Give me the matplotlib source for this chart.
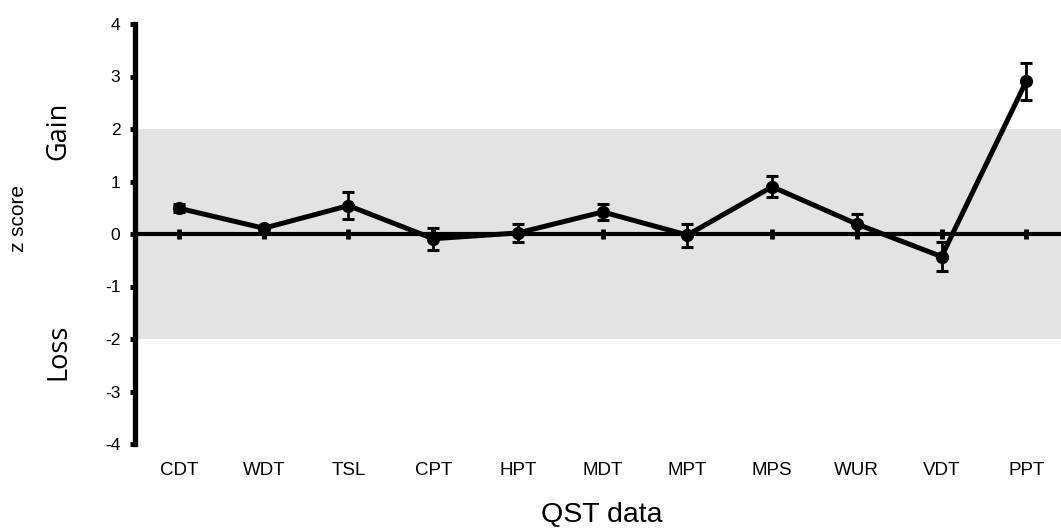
import numpy as np
import matplotlib.pyplot as plt

# QST z-scores (mean and error)
categorias = ['CDT', 'WDT', 'TSL', 'CPT', 'HPT', 'MDT', 'MPT', 'MPS', 'WUR', 'VDT', 'PPT']
zscore = [0.49, 0.11, 0.54, -0.09, 0.02, 0.42, -0.02, 0.90, 0.19, -0.43, 2.91]
erro = [0.08, 0.05, 0.26, 0.21, 0.17, 0.15, 0.22, 0.20, 0.19, 0.27, 0.35]
yticks = [-4, -3, -2, -1, 0, 1, 2, 3, 4]

plt.rcParams['font.family'] = ['Liberation Sans', 'DejaVu Sans']

fig = plt.figure(figsize=(10.61, 5.31), dpi=100)
ax = fig.add_axes([135/1061, 87/531, 1 - 135/1061, 420/531])

x = np.arange(len(categorias))

# faixa normal (-2 a 2)
ax.axhspan(-2, 2, color='#e3e3e3', zorder=0, lw=0)
# linha do zero com marquinhas em cada categoria
ax.axhline(0, color='black', lw=3, zorder=2)
ax.plot(x, np.zeros(len(x)), ls='none', marker='|', ms=7, mew=3.5, color='black', zorder=2)

ax.errorbar(x, zscore, yerr=erro, color='black', lw=3.6, marker='o', ms=8.5,
            elinewidth=2, capsize=4, capthick=2.2, zorder=3)

ax.set_xlim(-0.52, 10.41)
ax.set_ylim(-4, 4)
ax.set_yticks(yticks)
ax.set_yticklabels([str(t) for t in yticks], fontsize=12.5)
ax.set_xticks(x)
ax.set_xticklabels(categorias, fontsize=13.5)

for s in ['top', 'right', 'bottom']:
    ax.spines[s].set_visible(False)
ax.spines['left'].set_linewidth(3.8)
ax.tick_params(axis='y', direction='out', length=3.5, width=3.5, pad=7)
ax.tick_params(axis='x', length=0, pad=13)

fig.text(19/1061, 1 - 219/531, 'z score', rotation=90, ha='center', va='center', fontsize=15)
fig.text(58/1061, 1 - 131/531, 'Gain', rotation=90, ha='center', va='center', fontsize=19.5,
         family=['Open Sans', 'DejaVu Sans'])
fig.text(58/1061, 1 - 352/531, 'Loss', rotation=90, ha='center', va='center', fontsize=19.5,
         family=['Open Sans', 'DejaVu Sans'])
fig.text(602/1061, 1 - 515/531, 'QST data', ha='center', va='center', fontsize=20.5)

plt.savefig('out.png', dpi=100)
